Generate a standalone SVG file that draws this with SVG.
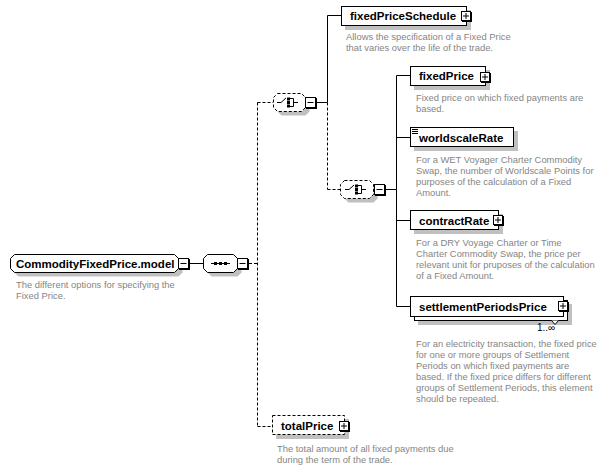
<svg xmlns="http://www.w3.org/2000/svg" width="605" height="469" viewBox="0 0 605 469">
<style>
.box{fill:#fff;stroke:#000;stroke-width:1}
.dbox{fill:#fff;stroke:#000;stroke-width:1;stroke-dasharray:3,2}
.sh{fill:#c0c0c0;stroke:none}
.lbl{font-family:"Liberation Sans",Arial,sans-serif;font-size:11.5px;font-weight:bold;fill:#000}
.desc{font-family:"Liberation Sans",Arial,sans-serif;font-size:9.4px;fill:#858585}
.card{font-family:"Liberation Sans",Arial,sans-serif;font-size:10px;fill:#000}
.ln{fill:none;stroke:#000;stroke-width:1}
.dln{fill:none;stroke:#000;stroke-width:1;stroke-dasharray:3,2}
.btn{fill:#fff;stroke:#000;stroke-width:1}
.bsh{fill:#000}
</style>
<defs>
<g id="minus">
<rect class="bsh" x="1" y="1" width="11" height="11"/>
<rect class="btn" x="0.5" y="0.5" width="10" height="10"/>
<line class="ln" x1="2.5" y1="5.5" x2="8.5" y2="5.5"/>
</g>
<g id="plus">
<rect class="bsh" x="1" y="1" width="10" height="10"/>
<rect class="btn" x="0.5" y="0.5" width="9" height="9"/>
<line class="ln" x1="2" y1="5" x2="8" y2="5"/>
<line class="ln" x1="5" y1="2" x2="5" y2="8"/>
</g>
<g id="choiceicon">
<line class="ln" x1="0" y1="0.5" x2="4" y2="0.5"/>
<line class="ln" x1="4" y1="0.5" x2="9" y2="-4"/>
<rect x="10" y="-4.5" width="3" height="3" fill="#000"/>
<rect x="10" y="-1" width="3" height="3" fill="#000"/>
<rect x="10" y="2.5" width="3" height="3" fill="#000"/>
<path class="ln" d="M13,-3.5 H16.5 V4.5 H13 M16.5,0.5 H21"/>
</g>
</defs>

<g id="connectors">
<line class="ln" x1="190" y1="263.5" x2="203" y2="263.5"/>
<line class="dln" x1="249" y1="263.5" x2="257.5" y2="263.5"/>
<line class="dln" x1="257.5" y1="102.5" x2="257.5" y2="426.5"/>
<line class="dln" x1="257.5" y1="102.5" x2="273" y2="102.5"/>
<line class="dln" x1="257.5" y1="426.5" x2="272" y2="426.5"/>
<line class="ln" x1="317" y1="102.5" x2="327.5" y2="102.5"/>
<line class="ln" x1="327.5" y1="15.5" x2="327.5" y2="102.5"/>
<line class="ln" x1="327.5" y1="15.5" x2="341" y2="15.5"/>
<line class="dln" x1="327.5" y1="102.5" x2="327.5" y2="189.5"/>
<line class="dln" x1="327.5" y1="189.5" x2="340" y2="189.5"/>
<line class="ln" x1="385" y1="189.5" x2="396.5" y2="189.5"/>
<line class="ln" x1="396.5" y1="75.5" x2="396.5" y2="306.5"/>
<line class="ln" x1="396.5" y1="75.5" x2="411" y2="75.5"/>
<line class="ln" x1="396.5" y1="137.5" x2="411" y2="137.5"/>
<line class="ln" x1="396.5" y1="220.5" x2="411" y2="220.5"/>
<line class="ln" x1="396.5" y1="306.5" x2="411" y2="306.5"/>
</g>

<g id="node-main">
<path class="sh" d="M18.5,258.5 H178.5 L182.5,262.5 V272.5 L178.5,276.5 H18.5 L14.5,272.5 V262.5 Z"/>
<path class="box" d="M14.5,254.5 H174.5 L178.5,258.5 V268.5 L174.5,272.5 H14.5 L10.5,268.5 V258.5 Z"/>
<text class="lbl" x="16" y="268">CommodityFixedPrice.model</text>
<use href="#minus" x="178" y="258"/>
<text class="desc" x="16" y="288">The different options for specifying the</text>
<text class="desc" x="16" y="299">Fixed Price.</text>
</g>

<g id="node-sequence">
<path class="sh" d="M211.5,258.5 H237.5 L241.5,262.5 V272.5 L237.5,276.5 H211.5 L207.5,272.5 V262.5 Z"/>
<path class="box" d="M207.5,254.5 H233.5 L237.5,258.5 V268.5 L233.5,272.5 H207.5 L203.5,268.5 V258.5 Z"/>
<line class="ln" x1="211" y1="263.5" x2="230" y2="263.5"/>
<rect x="214" y="262" width="3" height="3" fill="#000"/>
<rect x="219" y="262" width="3" height="3" fill="#000"/>
<rect x="224" y="262" width="3" height="3" fill="#000"/>
<use href="#minus" x="237" y="258"/>
</g>

<g id="node-choice1">
<path class="sh" d="M281.5,97.5 H305.5 L309.5,101.5 V111.5 L305.5,115.5 H281.5 L277.5,111.5 V101.5 Z"/>
<path class="dbox" d="M277.5,93.5 H301.5 L305.5,97.5 V107.5 L301.5,111.5 H277.5 L273.5,107.5 V97.5 Z"/>
<use href="#choiceicon" x="277" y="102"/>
<use href="#minus" x="305" y="97"/>
</g>

<g id="node-choice2">
<path class="sh" d="M348.5,184.5 H373.5 L377.5,188.5 V198.5 L373.5,202.5 H348.5 L344.5,198.5 V188.5 Z"/>
<path class="dbox" d="M344.5,180.5 H369.5 L373.5,184.5 V194.5 L369.5,198.5 H344.5 L340.5,194.5 V184.5 Z"/>
<use href="#choiceicon" x="345" y="189"/>
<use href="#minus" x="374" y="184"/>
</g>

<g id="node-fixedPriceSchedule">
<rect class="sh" x="345" y="10" width="126" height="20"/>
<rect class="box" x="341.5" y="6.5" width="125" height="19"/>
<text class="lbl" x="350" y="20">fixedPriceSchedule</text>
<use href="#plus" x="461" y="11"/>
<text class="desc" x="346" y="40">Allows the specification of a Fixed Price</text>
<text class="desc" x="346" y="51">that varies over the life of the trade.</text>
</g>

<g id="node-fixedPrice">
<rect class="sh" x="414" y="70" width="76" height="20"/>
<rect class="box" x="410.5" y="66.5" width="75" height="19"/>
<text class="lbl" x="419" y="80">fixedPrice</text>
<use href="#plus" x="480" y="72"/>
<text class="desc" x="416" y="101">Fixed price on which fixed payments are</text>
<text class="desc" x="416" y="112">based.</text>
</g>

<g id="node-worldscaleRate">
<rect class="sh" x="414" y="131" width="104" height="20"/>
<rect class="box" x="410.5" y="127.5" width="103" height="19"/>
<path class="ln" d="M412,129.5 H418 M412,131.5 H418 M412,133.5 H418"/>
<text class="lbl" x="419" y="142">worldscaleRate</text>
<text class="desc" x="416" y="163">For a WET Voyager Charter Commodity</text>
<text class="desc" x="416" y="174">Swap, the number of Worldscale Points for</text>
<text class="desc" x="416" y="185">purposes of the calculation of a Fixed</text>
<text class="desc" x="416" y="196">Amount.</text>
</g>

<g id="node-contractRate">
<rect class="sh" x="414" y="214" width="89" height="20"/>
<rect class="box" x="410.5" y="210.5" width="88" height="19"/>
<text class="lbl" x="419" y="225">contractRate</text>
<use href="#plus" x="493" y="215"/>
<text class="desc" x="416" y="246">For a DRY Voyage Charter or Time</text>
<text class="desc" x="416" y="257">Charter Commodity Swap, the price per</text>
<text class="desc" x="416" y="268">relevant unit for pruposes of the calculation</text>
<text class="desc" x="416" y="279">of a Fixed Amount.</text>
</g>

<g id="node-settlementPeriodsPrice">
<rect class="sh" x="418" y="304" width="154" height="21"/>
<rect class="box" x="414.5" y="300.5" width="153" height="20"/>
<rect class="box" x="410.5" y="296.5" width="153" height="20"/>
<text class="lbl" x="419" y="311">settlementPeriodsPrice</text>
<use href="#plus" x="558" y="301"/>
<path class="box" d="M551.5,320.5 L555,324.5 L558.5,320.5"/>
<text class="card" x="537" y="331">1..∞</text>
<text class="desc" x="416" y="347">For an electricity transaction, the fixed price</text>
<text class="desc" x="416" y="358">for one or more groups of Settlement</text>
<text class="desc" x="416" y="369">Periods on which fixed payments are</text>
<text class="desc" x="416" y="380">based. If the fixed price differs for different</text>
<text class="desc" x="416" y="391">groups of Settlement Periods, this element</text>
<text class="desc" x="416" y="402">should be repeated.</text>
</g>

<g id="node-totalPrice">
<rect class="sh" x="276" y="419" width="73" height="20"/>
<rect class="dbox" x="272.5" y="415.5" width="72" height="19"/>
<text class="lbl" x="281" y="430">totalPrice</text>
<use href="#plus" x="339" y="421"/>
<text class="desc" x="277" y="452">The total amount of all fixed payments due</text>
<text class="desc" x="277" y="463">during the term of the trade.</text>
</g>
</svg>
